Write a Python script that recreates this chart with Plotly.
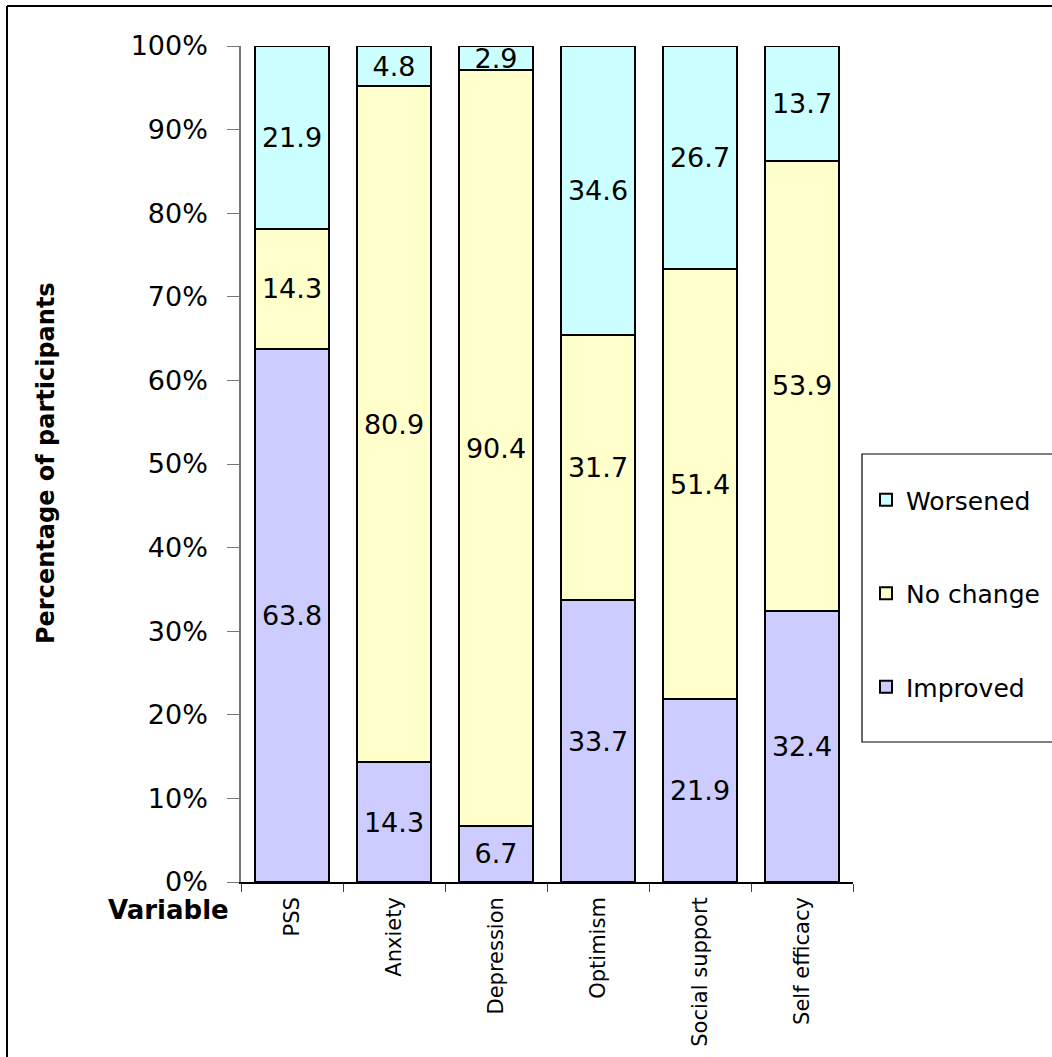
import plotly.graph_objects as go

categories = ["PSS", "Anxiety", "Depression", "Optimism", "Social support", "Self efficacy"]
improved = [63.8, 14.3, 6.7, 33.7, 21.9, 32.4]
no_change = [14.3, 80.9, 90.4, 31.7, 51.4, 53.9]
worsened = [21.9, 4.8, 2.9, 34.6, 26.7, 13.7]
y_ticks = [0, 10, 20, 30, 40, 50, 60, 70, 80, 90, 100]
y_tick_labels = [f"{v}%" for v in y_ticks]

W, H = 1052, 1057
L, R, T, B = 241, 853, 46, 882
pw, ph = R - L, B - T

def px(x):
    return (x - L) / pw

def py(y):
    return (B - y) / ph

FONT = "DejaVu Sans"

fig = go.Figure()
series = [("Improved", improved, "#CCCCFF", 3),
          ("No change", no_change, "#FFFFCC", 2),
          ("Worsened", worsened, "#CCFFFF", 1)]
for name, vals, col, rank in series:
    fig.add_trace(go.Bar(
        x=categories, y=vals, name=name,
        marker=dict(color=col, line=dict(color="black", width=2)),
        text=[f"{v:.1f}" for v in vals],
        textposition="inside", insidetextanchor="middle",
        textfont=dict(family=FONT, size=27, color="black"),
        legendgroup=name, legendrank=rank,
        width=0.725,
    ))

fig.update_layout(
    width=W, height=H,
    margin=dict(l=L, r=W - R, t=T, b=H - B, pad=0, autoexpand=False),
    barmode="stack",
    plot_bgcolor="white", paper_bgcolor="white",
    uniformtext=dict(minsize=27, mode="show"),
    font=dict(family=FONT, color="black"),
    showlegend=True,
    legend=dict(
        xref="container", yref="container",
        x=866 / W, xanchor="left", y=1 - 477 / H, yanchor="top",
        traceorder="grouped", tracegroupgap=58,
        font=dict(family=FONT, size=25, color="black"),
        bgcolor="rgba(0,0,0,0)", borderwidth=0,
        itemwidth=30,
    ),
    xaxis=dict(
        type="category", showline=True, linecolor="black", linewidth=1.5,
        ticks="outside", tickson="boundaries", ticklen=8, tickcolor="#444",
        tickangle=-90, tickfont=dict(family=FONT, size=21, color="black"),
        ticklabelstandoff=5, automargin=False,
        showgrid=False,
    ),
    yaxis=dict(
        range=[0, 100], tickvals=y_ticks, ticktext=y_tick_labels,
        showline=True, linecolor="#777", linewidth=1.5,
        ticks="outside", ticklen=12, tickcolor="#777",
        tickfont=dict(family=FONT, size=27, color="black"),
        ticklabelstandoff=14, automargin=False,
        showgrid=False, zeroline=False,
    ),
    annotations=[
        dict(text="<b>Percentage of participants</b>", textangle=-90,
             x=px(46), y=py(463), xref="paper", yref="paper",
             xanchor="center", yanchor="middle",
             showarrow=False, font=dict(family=FONT, size=24, color="black")),
        dict(text="<b>Variable</b>",
             x=px(168), y=py(910), xref="paper", yref="paper",
             xanchor="center", yanchor="middle",
             showarrow=False, font=dict(family=FONT, size=26, color="black")),
    ],
    shapes=[
        dict(type="line", xref="paper", yref="paper",
             x0=px(7), x1=px(1056), y0=py(6), y1=py(6),
             line=dict(color="black", width=2)),
        dict(type="line", xref="paper", yref="paper",
             x0=px(7), x1=px(7), y0=py(6), y1=py(1061),
             line=dict(color="black", width=2)),
        dict(type="rect", xref="paper", yref="paper",
             x0=px(862), x1=px(1056), y0=py(454), y1=py(742),
             line=dict(color="black", width=1.2)),
    ],
)

fig.write_html("out.html")
